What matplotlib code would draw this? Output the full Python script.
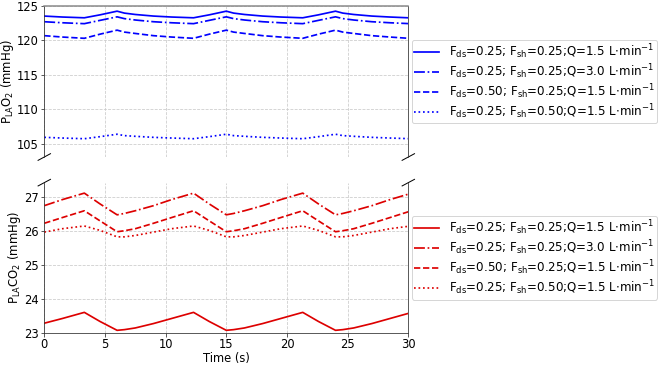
import matplotlib
matplotlib.use("Agg")
import matplotlib.pyplot as plt

# Time points (s)
time = [0.0, 1.5, 3.3, 4.6, 6.0, 6.6, 7.5, 9.0, 10.5, 12.3, 13.6, 15.0, 15.6, 16.5,
        18.0, 19.5, 21.3, 22.6, 24.0, 24.6, 25.5, 27.0, 28.5, 30.0]

# P_LA O2 (mmHg)
o2_base = [123.52, 123.38, 123.27, 123.70, 124.23, 123.95, 123.75, 123.52, 123.38, 123.27,
           123.70, 124.23, 123.95, 123.75, 123.52, 123.38, 123.27, 123.70, 124.23, 123.95,
           123.75, 123.52, 123.38, 123.27]
o2_q3 = [122.70, 122.55, 122.42, 122.90, 123.41, 123.15, 122.95, 122.70, 122.55, 122.42,
         122.90, 123.41, 123.15, 122.95, 122.70, 122.55, 122.42, 122.90, 123.41, 123.15,
         122.95, 122.70, 122.55, 122.43]
o2_fds = [120.68, 120.48, 120.30, 120.90, 121.48, 121.20, 121.00, 120.68, 120.48, 120.30,
          120.90, 121.48, 121.20, 121.00, 120.68, 120.48, 120.30, 120.90, 121.48, 121.20,
          121.00, 120.68, 120.48, 120.30]
o2_fsh = [105.95, 105.85, 105.75, 106.05, 106.40, 106.20, 106.10, 105.95, 105.85, 105.75,
          106.05, 106.40, 106.20, 106.10, 105.95, 105.85, 105.75, 106.05, 106.40, 106.20,
          106.10, 105.95, 105.85, 105.76]

# P_LA CO2 (mmHg)
co2_base = [23.28, 23.42, 23.60, 23.33, 23.07, 23.09, 23.14, 23.27, 23.42, 23.60,
            23.33, 23.07, 23.09, 23.14, 23.27, 23.42, 23.60, 23.33, 23.07, 23.09,
            23.14, 23.27, 23.42, 23.57]
co2_q3 = [26.75, 26.93, 27.12, 26.80, 26.48, 26.52, 26.60, 26.75, 26.93, 27.12,
          26.80, 26.48, 26.52, 26.60, 26.75, 26.93, 27.12, 26.80, 26.48, 26.52,
          26.60, 26.75, 26.93, 27.09]
co2_fds = [26.23, 26.40, 26.60, 26.30, 25.98, 26.01, 26.07, 26.23, 26.40, 26.60,
           26.30, 25.98, 26.01, 26.07, 26.23, 26.40, 26.60, 26.30, 25.98, 26.01,
           26.07, 26.23, 26.40, 26.57]
co2_fsh = [25.97, 26.07, 26.15, 26.02, 25.83, 25.83, 25.87, 25.97, 26.07, 26.15,
           26.02, 25.83, 25.83, 25.87, 25.97, 26.07, 26.15, 26.02, 25.83, 25.83,
           25.87, 25.97, 26.07, 26.14]

labels = [
    r"F$_{\mathrm{ds}}$=0.25; F$_{\mathrm{sh}}$=0.25;Q=1.5 L$\cdot$min$^{-1}$",
    r"F$_{\mathrm{ds}}$=0.25; F$_{\mathrm{sh}}$=0.25;Q=3.0 L$\cdot$min$^{-1}$",
    r"F$_{\mathrm{ds}}$=0.50; F$_{\mathrm{sh}}$=0.25;Q=1.5 L$\cdot$min$^{-1}$",
    r"F$_{\mathrm{ds}}$=0.25; F$_{\mathrm{sh}}$=0.50;Q=1.5 L$\cdot$min$^{-1}$",
]
styles = ["-", "-.", "--", ":"]
xticks = [0, 5, 10, 15, 20, 25, 30]

DPI = 72
plt.rcParams["font.size"] = 11.5
fig = plt.figure(figsize=(659 / DPI, 366 / DPI), dpi=DPI)
left, right = 0.0672, 0.6196
ax1 = fig.add_axes([left, 0.571, right - left, 0.984 - 0.571])
ax2 = fig.add_axes([left, 0.091, right - left, 0.501 - 0.091])

spine_c = "#333333"
for ax, series, color in [(ax1, [o2_base, o2_q3, o2_fds, o2_fsh], "#0000ff"),
                          (ax2, [co2_base, co2_q3, co2_fds, co2_fsh], "#dd0000")]:
    for s, ls, lab in zip(series, styles, labels):
        ax.plot(time, s, ls, color=color, lw=1.7, label=lab)
    ax.set_xlim(0, 30)
    ax.set_xticks(xticks)
    ax.grid(True, ls="--", color="#cccccc", lw=0.8)
    for sp in ax.spines.values():
        sp.set_color(spine_c)
    ax.tick_params(colors=spine_c, labelcolor="black", pad=2.2)
    ax.legend(loc="center left", bbox_to_anchor=(1.0, 0.5), fontsize=11.9,
              handlelength=2.1, labelspacing=0.12, borderpad=0.2,
              borderaxespad=0.3)

ax1.set_ylim(103.1, 125)
ax1.set_yticks([105, 110, 115, 120, 125])
ax1.spines["bottom"].set_visible(False)
ax1.spines["top"].set_color("#888888")
ax1.spines["top"].set_linewidth(1.5)
ax1.tick_params(axis="x", bottom=False, labelbottom=False)
ax1.set_ylabel(r"P$_{\mathrm{LA}}$O$_2$ (mmHg)", labelpad=0.5, fontsize=11.6)

ax2.set_ylim(23, 27.43)
ax2.set_yticks([23, 24, 25, 26, 27])
ax2.spines["top"].set_visible(False)
ax2.set_ylabel(r"P$_{\mathrm{LA}}$CO$_2$ (mmHg)", labelpad=0.5, fontsize=11.6)
ax2.set_xlabel("Time (s)", labelpad=1)

# break marks
dx = 0.017
dy1 = 0.022
dy2 = 0.022
kw = dict(color="k", lw=1.0, clip_on=False)
ax1.plot([-dx, dx], [-dy1, dy1], transform=ax1.transAxes, **kw)
ax1.plot([1 - dx, 1 + dx], [-dy1, dy1], transform=ax1.transAxes, **kw)
ax2.plot([-dx, dx], [1 - dy2, 1 + dy2], transform=ax2.transAxes, **kw)
ax2.plot([1 - dx, 1 + dx], [1 - dy2, 1 + dy2], transform=ax2.transAxes, **kw)

fig.savefig("out.png", dpi=DPI)
